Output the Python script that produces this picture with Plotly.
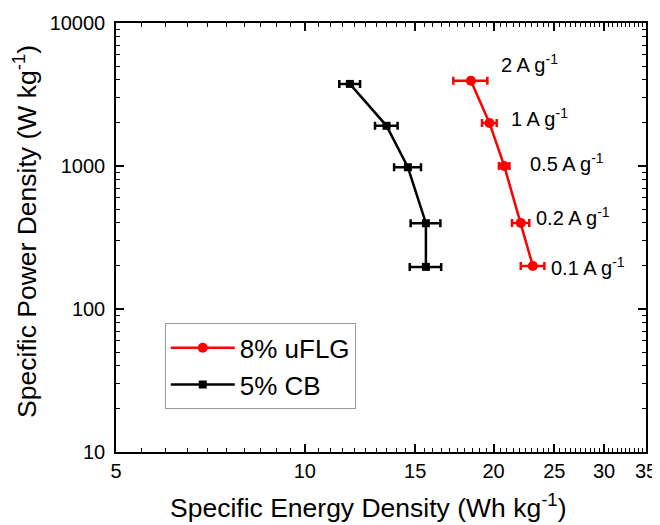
import numpy as np
import plotly.graph_objects as go

# ---- data ----
current_labels = ["2 A g<sup>-1</sup>", "1 A g<sup>-1</sup>", "0.5 A g<sup>-1</sup>",
                  "0.2 A g<sup>-1</sup>", "0.1 A g<sup>-1</sup>"]
uflg_energy = [18.4, 19.7, 20.8, 22.1, 23.1]
uflg_power = [3950, 2000, 1000, 400, 200]
uflg_err = [1.15, 0.53, 0.40, 0.70, 1.00]

cb_energy = [11.8, 13.5, 14.6, 15.6, 15.6]
cb_power = [3750, 1910, 980, 398, 197]
cb_err = [0.45, 0.56, 0.72, 0.85, 0.90]

x_ticks = [5, 10, 15, 20, 25, 30, 35]
y_ticks = [10, 100, 1000, 10000]

x_title = "Specific Energy Density (Wh kg<sup>-1</sup>)"
y_title = "Specific Power Density (W kg<sup>-1</sup>)"

# label anchor positions (data coordinates, left-middle of text)
label_x = [20.4, 21.2, 22.7, 23.2, 24.5]
label_y = [5170, 2200, 1050, 440, 197]

FONT = "Liberation Sans, Arial, sans-serif"

fig = go.Figure()
fig.add_trace(go.Scatter(
    x=uflg_energy, y=uflg_power, mode="lines+markers", name="8% uFLG",
    line=dict(color="#ff0000", width=2.5),
    marker=dict(symbol="circle", size=10, color="#ff0000"),
    error_x=dict(type="data", array=uflg_err, visible=True, color="#ff0000",
                 thickness=2.5, width=4),
))
fig.add_trace(go.Scatter(
    x=cb_energy, y=cb_power, mode="lines+markers", name="5% CB",
    line=dict(color="black", width=2.5),
    marker=dict(symbol="square", size=8, color="black"),
    error_x=dict(type="data", array=cb_err, visible=True, color="black",
                 thickness=2.5, width=4),
))

for t, lx, ly in zip(current_labels, label_x, label_y):
    fig.add_annotation(x=np.log10(lx), y=np.log10(ly), xref="x", yref="y",
                       text=t, showarrow=False, xanchor="left", yanchor="middle",
                       font=dict(family=FONT, size=20, color="black"))

# axis titles (placed slightly off-centre, as in the reference)
fig.add_annotation(x=0.4755, y=-0.126, xref="paper", yref="paper", text=x_title,
                   showarrow=False, xanchor="center", yanchor="middle",
                   font=dict(family=FONT, size=26.5, color="black"))
fig.add_annotation(x=-0.172, y=0.515, xref="paper", yref="paper", text=y_title,
                   showarrow=False, xanchor="center", yanchor="middle", textangle=-90,
                   font=dict(family=FONT, size=26.5, color="black"))

x_minor = [v / 2 for v in range(11, 70) if (v / 2) not in x_ticks]
y_minor = [m * d for d in (10, 100, 1000) for m in range(2, 10)]

# the page adds an 8px body margin, so the figure is sized to fit the window
fig.update_layout(
    width=652, height=517,
    margin=dict(l=108, r=14, t=15, b=73),
    paper_bgcolor="white", plot_bgcolor="white",
    font=dict(family=FONT, size=20, color="black"),
    showlegend=True,
    legend=dict(x=0.092, y=0.30, xanchor="left", yanchor="top",
                bordercolor="#999999", borderwidth=1, bgcolor="white",
                font=dict(family=FONT, size=26, color="black"),
                itemwidth=64, tracegroupgap=0),
    xaxis=dict(
        type="log", range=[np.log10(5), np.log10(35)], automargin=False,
        tickmode="array", tickvals=x_ticks, ticktext=[str(v) for v in x_ticks],
        ticks="inside", ticklen=8, tickwidth=1.5, tickcolor="black",
        showline=True, linecolor="black", linewidth=1.5, mirror="ticks",
        showgrid=False, zeroline=False,
        tickfont=dict(family=FONT, size=20),
        minor=dict(tickmode="array", tickvals=x_minor, ticks="inside", ticklen=4,
                   tickwidth=1, tickcolor="black", showgrid=False),
    ),
    yaxis=dict(
        type="log", range=[1, 4], automargin=False,
        tickmode="array", tickvals=y_ticks, ticktext=[str(v) for v in y_ticks],
        ticks="inside", ticklen=8, tickwidth=1.5, tickcolor="black",
        ticklabelstandoff=5,
        showline=True, linecolor="black", linewidth=1.5, mirror="ticks",
        showgrid=False, zeroline=False,
        tickfont=dict(family=FONT, size=20),
        minor=dict(tickmode="array", tickvals=y_minor, ticks="inside", ticklen=4,
                   tickwidth=1, tickcolor="black", showgrid=False),
    ),
)

fig.write_html("out.html")
